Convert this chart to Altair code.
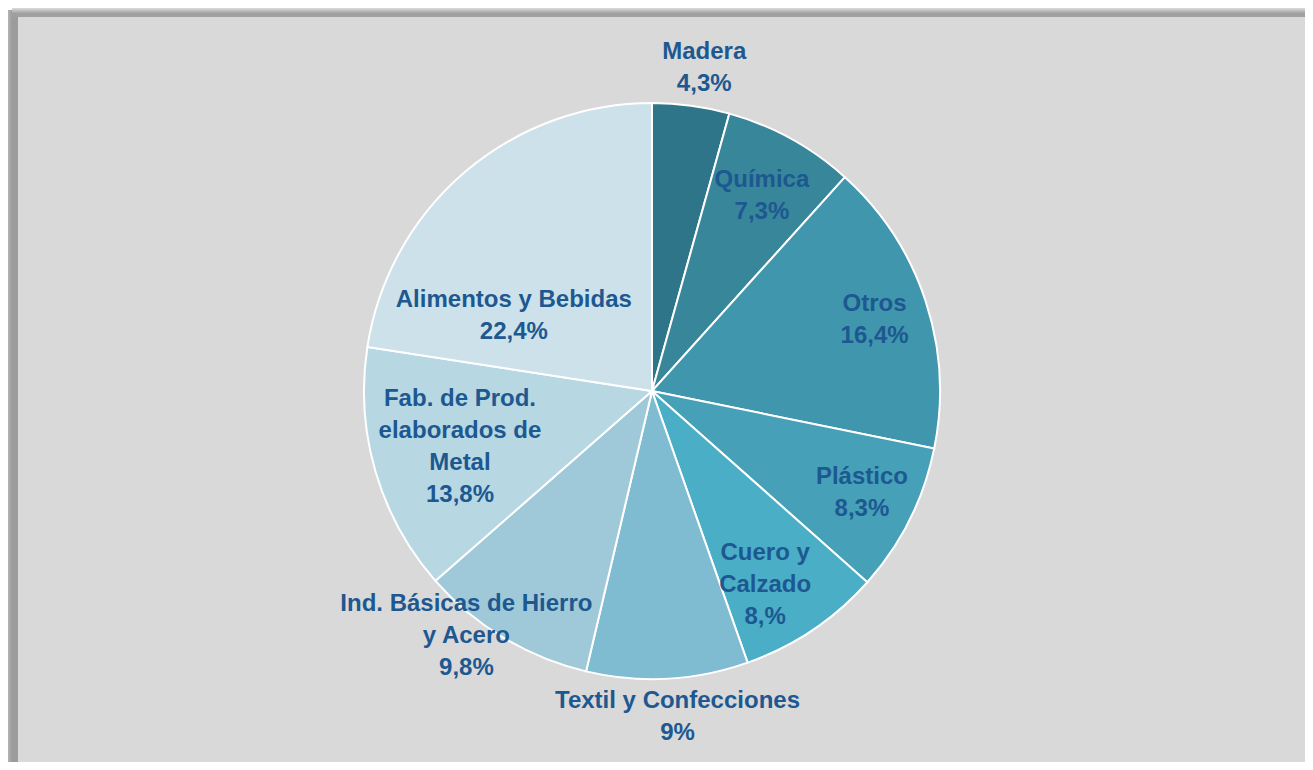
import altair as alt
import pandas as pd

categories = ["Madera", "Química", "Otros", "Plástico", "Cuero y Calzado",
              "Textil y Confecciones", "Ind. Básicas de Hierro y Acero",
              "Fab. de Prod. elaborados de Metal", "Alimentos y Bebidas"]
label_lines = ["Madera", "Química", "Otros", "Plástico", "Cuero y\nCalzado",
               "Textil y Confecciones", "Ind. Básicas de Hierro\ny Acero",
               "Fab. de Prod.\nelaborados de\nMetal", "Alimentos y Bebidas"]
values = [4.3, 7.3, 16.4, 8.3, 8.0, 9.0, 9.8, 13.8, 22.4]
value_labels = ["4,3%", "7,3%", "16,4%", "8,3%", "8,%", "9%", "9,8%", "13,8%", "22,4%"]
colors = ["#2f7589", "#38869a", "#4096ad", "#45a0b8", "#4aaec6",
          "#80bcd1", "#9fc9d9", "#b7d7e3", "#cde1ea"]

labels = [a + "\n" + b for a, b in zip(label_lines, value_labels)]
df = pd.DataFrame({
    "idx": list(range(len(categories))),
    "category": categories,
    "value": values,
    "label": labels,
})

W, H = 1297, 754
CX, CY, R = 644, 383, 288
FONT = "Liberation Sans, Arial, sans-serif"
TXT = "#1d5890"
LH = 32

base = alt.Chart(df).encode(
    theta=alt.Theta("value:Q", stack=True),
    order=alt.Order("idx:Q"),
)

arcs = base.mark_arc(outerRadius=R, stroke="white", strokeWidth=2).encode(
    color=alt.Color("category:N", scale=alt.Scale(domain=categories, range=colors), legend=None),
    x=alt.value(CX), y=alt.value(CY),
)

# label placement (radius from centre, extra dx, extra dy) — Excel-like positions
placement = {
    "Madera": (326, 8, 0),
    "Química": (228, 0, 5),
    "Otros": (228, 6, 0),
    "Plástico": (228, 6, 0),
    "Cuero y Calzado": (228, -14, 5),
    "Textil y Confecciones": (326, 8, 0),
    "Ind. Básicas de Hierro y Acero": (308, -27, -19),
    "Fab. de Prod. elaborados de Metal": (200, 0, 0),
    "Alimentos y Bebidas": (157, -36, 44),
}

text_layers = []
for cat, lab in zip(categories, labels):
    rad, dx, dy = placement[cat]
    nlines = lab.count("\n") + 1
    t = base.mark_text(radius=rad, dx=dx, dy=dy - (nlines - 1) * LH / 2, font=FONT,
                       fontSize=24, fontWeight="bold", color=TXT, lineBreak="\n",
                       lineHeight=LH, align="center", baseline="middle").encode(
        text=alt.condition(alt.FieldEqualPredicate(field="category", equal=cat),
                           alt.Text("label:N"), alt.value("")),
        x=alt.value(CX), y=alt.value(CY),
    )
    text_layers.append(t)

deco = alt.Data(values=[{"k": 1}])
panel = alt.Chart(deco).mark_rect(color="#d9d9d9").encode(
    x=alt.value(10), x2=alt.value(W), y=alt.value(9), y2=alt.value(H))
shadow_left = alt.Chart(deco).mark_rect(color=alt.Gradient(
    gradient="linear", x1=0, x2=1, y1=0, y2=0,
    stops=[alt.GradientStop(color="#b5b5b5", offset=0), alt.GradientStop(color="#9c9c9c", offset=0.4),
           alt.GradientStop(color="#9c9c9c", offset=1)])).encode(
    x=alt.value(0), x2=alt.value(10), y=alt.value(2), y2=alt.value(H))
shadow_top = alt.Chart(deco).mark_rect(color=alt.Gradient(
    gradient="linear", x1=0, x2=0, y1=0, y2=1,
    stops=[alt.GradientStop(color="#dcdcdc", offset=0), alt.GradientStop(color="#a0a0a0", offset=0.6),
           alt.GradientStop(color="#a0a0a0", offset=1)])).encode(
    x=alt.value(4), x2=alt.value(W), y=alt.value(0), y2=alt.value(9))

chart = alt.layer(shadow_left, shadow_top, panel, arcs, *text_layers).properties(
    width=W, height=H, padding=0, background="white",
    autosize=alt.AutoSizeParams(type="fit", contains="padding"),
).configure_view(stroke=None)

chart.save("out.html", embed_options={"renderer": "svg", "actions": False})
